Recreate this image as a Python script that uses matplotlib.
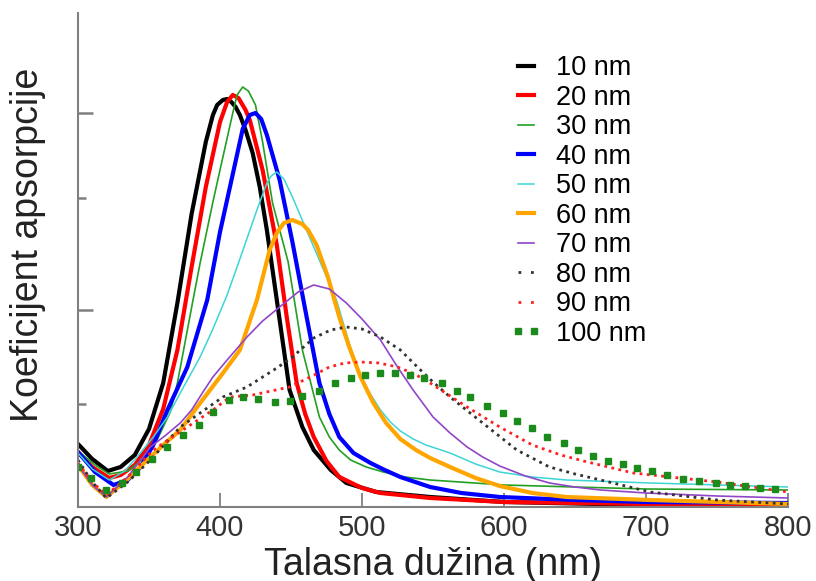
import matplotlib
matplotlib.use("Agg")
from matplotlib import pyplot as plt
from matplotlib.lines import Line2D

plt.rcParams['font.family'] = ['Liberation Sans', 'DejaVu Sans']

# absorption spectra of silver nanoparticles (arbitrary units)
wl_10 = [300, 310, 321, 330, 340, 350, 360, 370, 380, 390, 395, 398, 402, 405, 408, 411, 414, 418, 423, 428, 433, 440, 449, 458, 466, 478, 489, 510, 548, 600, 700, 800]
abs_10 = [0.63, 0.48, 0.36, 0.40, 0.52, 0.78, 1.24, 2.04, 2.93, 3.65, 3.92, 4.02, 4.07, 4.08, 4.05, 4.00, 3.92, 3.77, 3.54, 3.20, 2.77, 2.07, 1.17, 0.80, 0.57, 0.37, 0.24, 0.15, 0.10, 0.05, 0.02, 0.02]

wl_20 = [300, 310, 322, 330, 340, 350, 360, 370, 380, 390, 400, 405, 409, 413, 418, 421, 430, 440, 447, 454, 460, 466, 475, 484, 500, 513, 548, 600, 700, 800]
abs_20 = [0.55, 0.40, 0.29, 0.32, 0.42, 0.62, 0.98, 1.57, 2.40, 3.20, 3.85, 4.05, 4.12, 4.09, 3.97, 3.87, 3.37, 2.62, 1.90, 1.24, 0.93, 0.70, 0.46, 0.30, 0.19, 0.14, 0.09, 0.05, 0.03, 0.02]

wl_30 = [300, 312, 322, 335, 345, 355, 365, 370, 381, 386, 395, 400, 409, 412, 416, 420, 425, 430, 437, 448, 458, 470, 477, 484, 492, 503, 515, 530, 548, 600, 700, 800]
abs_30 = [0.56, 0.42, 0.33, 0.36, 0.47, 0.65, 0.95, 1.24, 2.07, 2.44, 3.05, 3.37, 3.94, 4.12, 4.20, 4.16, 4.02, 3.65, 3.04, 2.45, 1.57, 0.90, 0.70, 0.57, 0.47, 0.40, 0.35, 0.30, 0.27, 0.22, 0.18, 0.17]

wl_40 = [300, 312, 325, 335, 344, 353, 363, 377, 391, 400, 407, 416, 421, 425, 429, 433, 442, 451, 461, 470, 477, 484, 494, 506, 516, 527, 548, 570, 597, 650, 700, 800]
abs_40 = [0.55, 0.35, 0.22, 0.27, 0.40, 0.62, 0.97, 1.40, 2.07, 2.75, 3.20, 3.78, 3.92, 3.94, 3.88, 3.72, 3.27, 2.65, 1.90, 1.24, 0.93, 0.70, 0.54, 0.44, 0.37, 0.30, 0.20, 0.14, 0.10, 0.07, 0.05, 0.04]

wl_50 = [300, 310, 322, 333, 344, 353, 363, 372, 386, 395, 405, 414, 426, 433, 436, 440, 445, 451, 463, 482, 496, 505, 513, 520, 527, 536, 545, 562, 580, 597, 620, 644, 703, 800]
abs_50 = [0.54, 0.38, 0.27, 0.36, 0.54, 0.70, 0.90, 1.14, 1.50, 1.78, 2.12, 2.48, 2.97, 3.24, 3.31, 3.35, 3.28, 3.10, 2.70, 2.07, 1.40, 1.15, 0.97, 0.85, 0.76, 0.68, 0.62, 0.54, 0.43, 0.35, 0.30, 0.27, 0.24, 0.20]

wl_60 = [300, 310, 320, 335, 351, 360, 372, 386, 400, 414, 426, 435, 440, 445, 451, 458, 462, 468, 476, 484, 491, 499, 508, 517, 527, 538, 548, 562, 580, 597, 620, 644, 703, 800]
abs_60 = [0.42, 0.22, 0.10, 0.28, 0.50, 0.62, 0.77, 1.04, 1.30, 1.57, 2.07, 2.57, 2.74, 2.84, 2.87, 2.83, 2.77, 2.62, 2.30, 1.90, 1.60, 1.30, 1.04, 0.84, 0.68, 0.57, 0.49, 0.40, 0.29, 0.21, 0.14, 0.10, 0.07, 0.03]

wl_70 = [300, 310, 320, 335, 351, 362, 372, 380, 388, 395, 405, 419, 430, 442, 455, 466, 477, 489, 500, 513, 525, 536, 550, 562, 574, 585, 597, 615, 632, 650, 668, 700, 750, 800]
abs_70 = [0.42, 0.22, 0.10, 0.30, 0.60, 0.72, 0.84, 0.97, 1.15, 1.30, 1.47, 1.70, 1.86, 2.00, 2.15, 2.22, 2.18, 2.04, 1.88, 1.67, 1.40, 1.17, 0.90, 0.74, 0.60, 0.50, 0.41, 0.31, 0.24, 0.20, 0.17, 0.14, 0.11, 0.09]

wl_80 = [300, 310, 320, 335, 351, 372, 386, 402, 419, 440, 451, 466, 478, 489, 500, 513, 527, 539, 550, 562, 585, 609, 632, 650, 668, 703, 750, 800]
abs_80 = [0.47, 0.25, 0.09, 0.25, 0.47, 0.80, 0.94, 1.10, 1.20, 1.39, 1.50, 1.69, 1.77, 1.80, 1.78, 1.70, 1.57, 1.40, 1.25, 1.10, 0.84, 0.57, 0.40, 0.33, 0.27, 0.15, 0.07, 0.03]

wl_90 = [300, 310, 320, 335, 353, 377, 395, 407, 423, 449, 465, 477, 488, 499, 512, 525, 537, 548, 561, 574, 597, 620, 640, 656, 691, 750, 800]
abs_90 = [0.44, 0.25, 0.12, 0.30, 0.57, 0.80, 0.97, 1.10, 1.12, 1.20, 1.31, 1.40, 1.44, 1.45, 1.44, 1.40, 1.33, 1.24, 1.12, 1.00, 0.80, 0.62, 0.52, 0.46, 0.34, 0.25, 0.15]

wl_100 = [300, 309, 320, 331, 341, 352, 363, 374, 385, 395, 406, 416, 427, 439, 449, 458, 470, 481, 492, 502, 513, 523, 534, 544,
          556, 567, 576, 588, 599, 609, 620, 630, 642, 652, 663, 673, 684, 694, 704, 715, 726, 737, 749, 759, 770, 780, 791]
abs_100 = [0.40, 0.29, 0.17, 0.24, 0.35, 0.48, 0.60, 0.72, 0.82, 0.95, 1.07, 1.10, 1.08, 1.05, 1.06, 1.11, 1.16, 1.24, 1.29, 1.32, 1.34, 1.34, 1.32, 1.29,
           1.24, 1.16, 1.10, 1.01, 0.94, 0.86, 0.79, 0.70, 0.64, 0.57, 0.51, 0.46, 0.43, 0.39, 0.36, 0.32, 0.28, 0.26, 0.24, 0.22, 0.21, 0.19, 0.18]

labels = ['10 nm', '20 nm', '30 nm', '40 nm', '50 nm', '60 nm', '70 nm', '80 nm', '90 nm', '100 nm']
x_ticks = [300, 400, 500, 600, 700, 800]

fig = plt.figure(figsize=(8.16, 5.81), dpi=100)
ax = fig.add_axes([78/816, 74/581, 710/816, 494/581])

h10, = ax.plot(wl_10, abs_10, color='black', lw=3)
h20, = ax.plot(wl_20, abs_20, color='#ff0000', lw=3)
h30, = ax.plot(wl_30, abs_30, color='#22a022', lw=1.2)
h40, = ax.plot(wl_40, abs_40, color='#0000ff', lw=3)
h50, = ax.plot(wl_50, abs_50, color='#3cd5d5', lw=1.1)
h60, = ax.plot(wl_60, abs_60, color='#ffa500', lw=3)
h70, = ax.plot(wl_70, abs_70, color='#9146c8', lw=1.2)
ax.plot(wl_80, abs_80, color='#333333', lw=2, linestyle=(0, (1, 1.6)))
ax.plot(wl_90, abs_90, color='#ff2020', lw=2, linestyle=(0, (1, 1.6)))
ax.plot(wl_100, abs_100, ls='none', marker='s', ms=4.8, color='#1b8c1b')

# legend shows dots further apart than the curves do
h80 = Line2D([], [], color='#333333', lw=2, linestyle=(0, (1, 3.5)))
h90 = Line2D([], [], color='#ff2020', lw=2, linestyle=(0, (1, 3.5)))
h100 = Line2D([], [], ls='none', marker='s', ms=4.8, color='#1b8c1b')

fig.legend([h10, h20, h30, h40, h50, h60, h70, h80, h90, h100], labels,
           loc='upper left', bbox_to_anchor=(510/816, 1 - 55/581), frameon=False,
           fontsize=19.5, labelspacing=0.13, handlelength=1.2, handletextpad=0.5,
           borderpad=0, borderaxespad=0, numpoints=2)

ax.set_xlim(300, 800)
ax.set_ylim(0, 4.94)
ax.set_xticks(x_ticks)
ax.set_yticks([1.97, 3.94])
ax.set_yticks([1.03, 3.09], minor=True)
ax.set_yticklabels([])
ax.tick_params(axis='x', direction='in', length=10, width=1.3, color='#808080',
               labelsize=21, labelcolor='#333333', pad=5)
ax.tick_params(axis='y', which='major', direction='in', length=11, width=1.8, color='#808080')
ax.tick_params(axis='y', which='minor', direction='in', length=6, width=1.8, color='#808080')

for s in ['top', 'right']:
    ax.spines[s].set_visible(False)
for s in ['left', 'bottom']:
    ax.spines[s].set_color('#808080')
    ax.spines[s].set_linewidth(1.5)

ax.set_xlabel('Talasna dužina (nm)', fontsize=27, color='#222222')
ax.xaxis.set_label_coords(0.5, -0.08)
ax.set_ylabel('Koeficijent apsorpcije', fontsize=27, color='#222222')
ax.yaxis.set_label_coords(-0.045, 0.53)

fig.savefig('out.png', dpi=100)
